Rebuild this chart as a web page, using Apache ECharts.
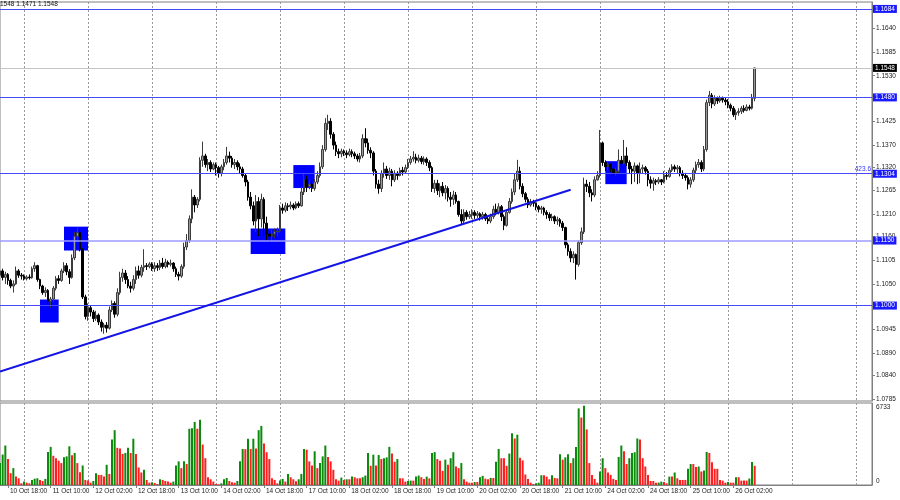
<!DOCTYPE html>
<html><head><meta charset="utf-8">
<script src="https://cdn.jsdelivr.net/npm/echarts/dist/echarts.min.js"></script>
<style>html,body{margin:0;padding:0;background:#fff}#c{width:900px;height:500px}</style>
</head><body><div id="c"></div>
<script>
// ---- data ----
const headerText = '1548 1.1471 1.1548';
const tickLabels = ['10 Oct 18:00','11 Oct 10:00','12 Oct 02:00','12 Oct 18:00','13 Oct 10:00','14 Oct 02:00','14 Oct 18:00','17 Oct 10:00','18 Oct 02:00','18 Oct 18:00','19 Oct 10:00','20 Oct 02:00','20 Oct 18:00','21 Oct 10:00','24 Oct 02:00','24 Oct 18:00','25 Oct 10:00','26 Oct 02:00'];
const priceTicks = [1.1640,1.1585,1.1530,1.1425,1.1370,1.1320,1.1265,1.1210,1.1160,1.1105,1.1050,1.0945,1.0890,1.0840,1.0785];
const close = [
1.1080,1.1065,1.1072,1.1058,1.1045,1.1050,1.1080,1.1070,1.1068,
1.1062,1.1066,1.1064,1.1085,1.1092,1.1060,1.1045,1.1030,1.1035,1.1010,1.1015,1.1040,1.1062,1.1058,1.1080,1.1092,1.1078,1.1065,1.1110,1.1160,1.1168,1.1130,1.1020,1.0975,
1.0995,1.0985,1.0970,1.0978,1.0962,1.0950,1.0955,1.0948,1.0990,1.1005,1.0980,1.1030,1.1065,1.1075,1.1060,1.1045,1.1040,1.1060,1.1080,1.1070,1.1088,1.1092,1.1090,1.1096,
1.1085,1.1092,1.1088,1.1098,1.1090,1.1100,1.1095,1.1098,1.1085,1.1072,1.1068,1.1090,1.1135,1.1150,1.1200,1.1250,1.1232,1.1245,1.1335,1.1345,1.1325,1.1330,1.1315,1.1325,
1.1318,1.1305,1.1320,1.1330,1.1345,1.1340,1.1325,1.1330,1.1320,1.1315,1.1300,1.1285,1.1250,1.1230,1.1195,1.1240,1.1200,1.1245,1.1190,1.1165,1.1160,1.1165,1.1170,1.1172,
1.1225,1.1220,1.1230,1.1228,1.1232,1.1225,1.1235,1.1230,1.1262,1.1290,1.1275,1.1280,1.1270,1.1285,1.1300,1.1320,1.1360,1.1420,1.1425,1.1395,1.1370,1.1355,1.1350,1.1356,
1.1352,1.1348,1.1355,1.1350,1.1345,1.1338,1.1345,1.1385,1.1375,1.1358,1.1352,1.1310,1.1280,1.1270,1.1305,1.1315,1.1300,1.1310,1.1290,1.1305,1.1300,1.1312,1.1308,1.1318,
1.1330,1.1338,1.1342,1.1335,1.1340,1.1332,1.1338,1.1330,1.1318,1.1270,1.1282,1.1265,1.1275,1.1260,1.1270,1.1250,1.1245,1.1255,1.1240,1.1210,1.1195,1.1215,1.1205,1.1210,
1.1215,1.1208,1.1212,1.1205,1.1210,1.1200,1.1195,1.1205,1.1222,1.1215,1.1228,1.1205,1.1185,1.1215,1.1240,1.1262,1.1290,1.1310,1.1275,1.1258,1.1245,1.1232,1.1240,1.1236,
1.1228,1.1222,1.1225,1.1215,1.1210,1.1202,1.1205,1.1195,1.1198,1.1190,1.1180,1.1140,1.1125,1.1110,1.1118,1.1095,1.1145,1.1170,1.1280,1.1275,1.1260,1.1255,1.1290,1.1300,
1.1375,1.1330,1.1320,1.1325,1.1315,1.1305,1.1310,1.1335,1.1328,1.1345,1.1330,1.1315,1.1310,1.1322,1.1305,1.1315,1.1318,1.1310,1.1290,1.1282,1.1288,1.1285,1.1290,1.1285,
1.1300,1.1298,1.1312,1.1320,1.1315,1.1318,1.1305,1.1300,1.1295,1.1280,1.1290,1.1312,1.1325,1.1330,1.1315,1.1360,1.1468,1.1485,1.1465,1.1478,1.1472,1.1478,1.1474,1.1470,
1.1462,1.1455,1.1440,1.1445,1.1448,1.1455,1.1450,1.1458,1.1455,1.1478,1.1548];
const open = [
1.1070,1.1080,1.1065,1.1072,1.1058,1.1045,1.1050,1.1080,1.1070,
1.1068,1.1062,1.1066,1.1064,1.1085,1.1092,1.1060,1.1045,1.1030,1.1035,1.1010,1.1015,1.1040,1.1062,1.1058,1.1080,1.1092,1.1078,1.1065,1.1110,1.1160,1.1168,1.1130,1.1020,
1.0975,1.0995,1.0985,1.0970,1.0978,1.0962,1.0950,1.0955,1.0948,1.0990,1.1005,1.0980,1.1030,1.1065,1.1075,1.1060,1.1045,1.1040,1.1060,1.1080,1.1070,1.1088,1.1092,1.1090,
1.1096,1.1085,1.1092,1.1088,1.1098,1.1090,1.1100,1.1095,1.1098,1.1085,1.1072,1.1068,1.1090,1.1135,1.1150,1.1200,1.1250,1.1232,1.1245,1.1335,1.1345,1.1325,1.1330,1.1315,
1.1325,1.1318,1.1305,1.1320,1.1330,1.1345,1.1340,1.1325,1.1330,1.1320,1.1315,1.1300,1.1285,1.1250,1.1230,1.1195,1.1240,1.1200,1.1245,1.1190,1.1165,1.1160,1.1165,1.1170,
1.1172,1.1225,1.1220,1.1230,1.1228,1.1232,1.1225,1.1235,1.1230,1.1262,1.1290,1.1275,1.1280,1.1270,1.1285,1.1300,1.1320,1.1360,1.1420,1.1425,1.1395,1.1370,1.1355,1.1350,
1.1356,1.1352,1.1348,1.1355,1.1350,1.1345,1.1338,1.1345,1.1385,1.1375,1.1358,1.1352,1.1310,1.1280,1.1270,1.1305,1.1315,1.1300,1.1310,1.1290,1.1305,1.1300,1.1312,1.1308,
1.1318,1.1330,1.1338,1.1342,1.1335,1.1340,1.1332,1.1338,1.1330,1.1318,1.1270,1.1282,1.1265,1.1275,1.1260,1.1270,1.1250,1.1245,1.1255,1.1240,1.1210,1.1195,1.1215,1.1205,
1.1210,1.1215,1.1208,1.1212,1.1205,1.1210,1.1200,1.1195,1.1205,1.1222,1.1215,1.1228,1.1205,1.1185,1.1215,1.1240,1.1262,1.1290,1.1310,1.1275,1.1258,1.1245,1.1232,1.1240,
1.1236,1.1228,1.1222,1.1225,1.1215,1.1210,1.1202,1.1205,1.1195,1.1198,1.1190,1.1180,1.1140,1.1125,1.1110,1.1118,1.1095,1.1145,1.1170,1.1280,1.1275,1.1260,1.1255,1.1290,
1.1300,1.1375,1.1330,1.1320,1.1325,1.1315,1.1305,1.1310,1.1335,1.1328,1.1345,1.1330,1.1315,1.1310,1.1322,1.1305,1.1315,1.1318,1.1310,1.1290,1.1282,1.1288,1.1285,1.1290,
1.1285,1.1300,1.1298,1.1312,1.1320,1.1315,1.1318,1.1305,1.1300,1.1295,1.1280,1.1290,1.1312,1.1325,1.1330,1.1315,1.1360,1.1468,1.1485,1.1465,1.1478,1.1472,1.1478,1.1474,
1.1470,1.1462,1.1455,1.1440,1.1445,1.1448,1.1455,1.1450,1.1458,1.1455,1.1478];
const high = [
1.1090,1.1085,1.1078,1.1075,1.1062,1.1058,1.1090,1.1084,1.1075,
1.1072,1.1070,1.1072,1.1090,1.1100,1.1094,1.1062,1.1048,1.1042,1.1038,1.1020,1.1045,1.1068,1.1070,1.1085,1.1100,1.1098,1.1084,1.1118,1.1170,1.1180,1.1176,1.1132,1.1025,
1.1005,1.1000,1.0990,1.0988,1.0982,1.0968,1.0960,1.0962,1.0998,1.1012,1.1010,1.1040,1.1078,1.1085,1.1082,1.1068,1.1055,1.1070,1.1090,1.1092,1.1094,1.1130,1.1098,1.1100,
1.1100,1.1100,1.1098,1.1105,1.1110,1.1108,1.1104,1.1106,1.1100,1.1090,1.1078,1.1095,1.1145,1.1165,1.1208,1.1268,1.1255,1.1250,1.1342,1.1378,1.1350,1.1338,1.1335,1.1330,
1.1330,1.1322,1.1325,1.1338,1.1366,1.1355,1.1345,1.1338,1.1335,1.1328,1.1320,1.1305,1.1290,1.1262,1.1240,1.1255,1.1250,1.1258,1.1250,1.1205,1.1172,1.1175,1.1178,1.1180,
1.1232,1.1235,1.1238,1.1236,1.1240,1.1236,1.1240,1.1240,1.1275,1.1305,1.1300,1.1290,1.1288,1.1292,1.1310,1.1330,1.1370,1.1432,1.1440,1.1432,1.1400,1.1378,1.1362,1.1362,
1.1360,1.1358,1.1362,1.1360,1.1355,1.1350,1.1352,1.1395,1.1409,1.1385,1.1365,1.1356,1.1315,1.1290,1.1312,1.1330,1.1322,1.1318,1.1315,1.1312,1.1310,1.1318,1.1320,1.1325,
1.1338,1.1345,1.1356,1.1350,1.1348,1.1345,1.1344,1.1342,1.1335,1.1322,1.1290,1.1290,1.1282,1.1285,1.1278,1.1275,1.1262,1.1265,1.1262,1.1242,1.1222,1.1222,1.1220,1.1218,
1.1222,1.1220,1.1218,1.1215,1.1216,1.1214,1.1206,1.1212,1.1230,1.1235,1.1236,1.1232,1.1210,1.1222,1.1248,1.1270,1.1305,1.1336,1.1320,1.1282,1.1262,1.1250,1.1246,1.1244,
1.1238,1.1232,1.1230,1.1228,1.1220,1.1215,1.1212,1.1208,1.1205,1.1202,1.1195,1.1182,1.1145,1.1132,1.1125,1.1120,1.1150,1.1180,1.1295,1.1290,1.1285,1.1268,1.1298,1.1310,
1.1405,1.1378,1.1335,1.1332,1.1328,1.1318,1.1318,1.1360,1.1345,1.1382,1.1365,1.1335,1.1322,1.1330,1.1325,1.1330,1.1325,1.1322,1.1315,1.1298,1.1295,1.1292,1.1296,1.1292,
1.1310,1.1308,1.1318,1.1326,1.1325,1.1324,1.1322,1.1312,1.1306,1.1300,1.1296,1.1318,1.1332,1.1338,1.1335,1.1368,1.1475,1.1495,1.1490,1.1485,1.1482,1.1484,1.1482,1.1480,
1.1476,1.1466,1.1460,1.1452,1.1455,1.1460,1.1462,1.1464,1.1463,1.1488,1.1548];
const low = [
1.1062,1.1058,1.1050,1.1048,1.1040,1.1030,1.1048,1.1064,1.1060,
1.1058,1.1058,1.1060,1.1062,1.1078,1.1055,1.1038,1.1025,1.1020,1.1004,1.0995,1.1008,1.1035,1.1050,1.1055,1.1075,1.1070,1.1050,1.1062,1.1105,1.1148,1.1125,1.1015,1.0968,
1.0965,1.0975,1.0962,1.0965,1.0955,1.0940,1.0935,1.0938,1.0945,1.0985,1.0972,1.0975,1.1025,1.1055,1.1050,1.1040,1.1030,1.1035,1.1050,1.1062,1.1065,1.1078,1.1082,1.1086,
1.1080,1.1078,1.1080,1.1082,1.1085,1.1086,1.1088,1.1090,1.1078,1.1066,1.1058,1.1064,1.1085,1.1128,1.1145,1.1190,1.1215,1.1225,1.1240,1.1320,1.1318,1.1310,1.1308,1.1312,
1.1300,1.1295,1.1298,1.1312,1.1325,1.1330,1.1318,1.1315,1.1312,1.1305,1.1295,1.1275,1.1242,1.1222,1.1185,1.1170,1.1160,1.1180,1.1160,1.1150,1.1145,1.1150,1.1155,1.1160,
1.1168,1.1212,1.1215,1.1218,1.1222,1.1220,1.1222,1.1225,1.1228,1.1255,1.1262,1.1268,1.1262,1.1265,1.1280,1.1295,1.1315,1.1355,1.1405,1.1385,1.1360,1.1345,1.1340,1.1342,
1.1345,1.1340,1.1344,1.1342,1.1338,1.1332,1.1330,1.1340,1.1365,1.1350,1.1340,1.1300,1.1270,1.1258,1.1262,1.1295,1.1292,1.1290,1.1275,1.1285,1.1290,1.1298,1.1300,1.1305,
1.1315,1.1325,1.1332,1.1328,1.1330,1.1326,1.1325,1.1322,1.1310,1.1262,1.1260,1.1255,1.1250,1.1252,1.1245,1.1240,1.1228,1.1232,1.1235,1.1205,1.1186,1.1190,1.1198,1.1200,
1.1200,1.1200,1.1202,1.1196,1.1198,1.1195,1.1188,1.1190,1.1200,1.1208,1.1210,1.1195,1.1174,1.1182,1.1212,1.1235,1.1255,1.1285,1.1268,1.1250,1.1238,1.1225,1.1228,1.1228,
1.1220,1.1215,1.1212,1.1208,1.1200,1.1195,1.1195,1.1188,1.1186,1.1182,1.1172,1.1132,1.1115,1.1100,1.1098,1.1060,1.1090,1.1140,1.1165,1.1262,1.1250,1.1240,1.1250,1.1288,
1.1295,1.1322,1.1310,1.1312,1.1308,1.1298,1.1300,1.1305,1.1318,1.1325,1.1322,1.1305,1.1280,1.1285,1.1280,1.1282,1.1305,1.1302,1.1275,1.1270,1.1265,1.1278,1.1280,1.1278,
1.1282,1.1290,1.1295,1.1308,1.1308,1.1305,1.1298,1.1292,1.1288,1.1268,1.1272,1.1285,1.1305,1.1318,1.1308,1.1310,1.1355,1.1460,1.1455,1.1460,1.1465,1.1468,1.1468,1.1462,
1.1455,1.1448,1.1435,1.1428,1.1438,1.1442,1.1445,1.1448,1.1450,1.1452,1.1471];
const volume = [
1800,2500,3240,2130,970,1385,690,550,140,
280,200,140,415,520,550,415,330,500,2700,3130,2400,2200,2000,1800,2270,2350,3180,2440,2630,1800,1050,1600,415,
360,190,330,970,830,830,690,1660,910,3740,4500,3050,3000,2550,2630,3050,2630,3800,2550,1440,1025,1250,415,190,
220,170,80,470,415,330,280,190,280,1600,1940,1385,1940,1720,4620,4650,5180,4620,5350,3320,2200,640,470,280,
80,55,140,470,580,330,220,190,330,1940,2960,2940,3800,2960,3800,3000,4500,4850,3400,2690,2130,550,415,140,
360,500,280,910,640,470,300,470,910,2960,2900,1940,1600,2770,1385,1800,2350,3240,2300,1940,1250,470,360,610,
415,470,470,690,640,550,550,640,775,2630,1580,2490,1600,2460,2130,2190,2270,3130,2580,1910,2130,550,550,280,
330,360,360,690,775,640,500,690,550,2630,2700,2130,2000,1160,2080,1660,2200,2690,1520,1385,1800,470,280,190,
190,250,250,640,750,520,470,580,580,1910,2960,2200,2200,1580,2580,4240,3820,4130,2240,2020,860,500,190,80,
140,190,800,800,690,470,800,580,550,2520,2080,2270,2520,1800,2200,3130,6290,5540,6510,4570,1800,830,500,190,
1100,2200,1385,1025,830,500,415,2300,3240,2770,1720,2200,2630,2690,3820,3740,2200,1520,830,330,330,190,200,280,
250,140,690,690,1025,550,415,415,415,1330,1720,1720,1470,1520,1110,1190,2710,2630,1860,1330,1330,415,360,190,
250,190,190,640,640,360,360,360,530,1880,1580];
const volumeMax = 6733;
const levelLines = [1.1684, 1.1480, 1.1304, 1.1000];
const softLevel = 1.1150;
const lastPrice = 1.1548;
const fibLevel = 1.1304, fibText = '423.6';
// zones: [fromBar, topPrice, toBar, bottomPrice]
const zones = [[15,1.1014,22,1.0961],[24,1.1182,33,1.1127],[94,1.1178,107,1.1119],[110,1.1324,118,1.1271],[227,1.1333,235,1.1280]];
const trendLine = [[0,1.0848],[214,1.1267]];

// ---- layout ----
const SLOTS = 328;
const FIRST_LABEL = 3, LABEL_STEP = 16, FIRST_DAY = 9, DAY_STEP = 24;
const FF = "'Liberation Sans', Arial, sans-serif";
const FS = 6.5;
const BLUE = '#4848ff';

const cats = [];
for (let i = 0; i < SLOTS; i++) {
  const k = i - FIRST_LABEL;
  cats.push(k >= 0 && k % LABEL_STEP === 0 && k / LABEL_STEP < tickLabels.length ? tickLabels[k / LABEL_STEP] : '');
}
const candles = close.map((c, i) => [open[i], c, low[i], high[i]]);
const volData = volume.map((v, i) => ({
  value: v,
  itemStyle: { color: (i === 0 || v > volume[i - 1]) ? '#0b8a0b' : '#ff1f1f' }
}));
const isDay = (idx) => idx >= FIRST_DAY && (idx - FIRST_DAY) % DAY_STEP === 0;
const gridSplit = { show: true, interval: isDay, lineStyle: { color: '#9a9a9a', width: 1, type: [2, 2] } };

function lvlLabel(v, bg) {
  return { show: true, position: 'end', distance: 1, formatter: v.toFixed(4), color: '#fff',
    backgroundColor: bg, padding: [1, 2, 0, 2], fontSize: FS, fontFamily: FF, lineHeight: 7 };
}
function levelSeries(name, color, width, items) {
  return { type: 'line', name, xAxisIndex: 0, yAxisIndex: 0, data: [], z: 4, silent: true, symbol: 'none',
    color: color, lineStyle: { color: color },
    markLine: { silent: true, precision: 4, symbol: ['none', 'none'], animation: false,
      lineStyle: { color: color, width: width, type: 'solid', opacity: 1 }, data: items } };
}

const chart = echarts.init(document.getElementById('c'), null, { renderer: 'canvas' });
chart.setOption({
  animation: false,
  backgroundColor: '#fff',
  graphic: [{ type: 'text', left: 0, top: 1, style: { text: headerText, fill: '#111', fontSize: FS, fontFamily: FF } }],
  grid: [
    { left: 0, right: 28, top: 2, height: 399, show: true, borderColor: '#808080', borderWidth: 1, backgroundColor: 'transparent' },
    { left: 0, right: 28, top: 403, height: 82, show: true, borderColor: '#808080', borderWidth: 1, backgroundColor: 'transparent' }
  ],
  xAxis: [
    { type: 'category', gridIndex: 0, data: cats, boundaryGap: false,
      axisLine: { show: false }, axisTick: { show: false }, axisLabel: { show: false }, splitLine: gridSplit },
    { type: 'category', gridIndex: 1, data: cats, boundaryGap: false,
      axisLine: { show: true, lineStyle: { color: '#808080' } },
      axisTick: { show: true, interval: (i, v) => v !== '', length: 3, lineStyle: { color: '#808080' } },
      axisLabel: { show: true, interval: (i, v) => v !== '', align: 'left', margin: 3, padding: [0, 0, 0, 2],
        color: '#222', fontSize: FS, fontFamily: FF },
      splitLine: gridSplit }
  ],
  yAxis: [
    { type: 'value', gridIndex: 0, position: 'right', min: 1.0780, max: 1.1700,
      axisLine: { show: true, lineStyle: { color: '#808080' } },
      axisTick: { show: true, length: 3, customValues: priceTicks, lineStyle: { color: '#808080' } },
      axisLabel: { show: true, customValues: priceTicks, margin: 4, color: '#222', fontSize: FS, fontFamily: FF,
        formatter: v => v.toFixed(4) },
      splitLine: { show: false } },
    { type: 'value', gridIndex: 1, position: 'right', min: 0, max: volumeMax,
      axisLine: { show: true, lineStyle: { color: '#808080' } },
      axisTick: { show: false },
      axisLabel: { show: true, customValues: [0, volumeMax], margin: 4, color: '#222',
        formatter: v => v === 0 ? '{b|0}' : '{t|' + v + '}',
        rich: { t: { fontSize: FS, fontFamily: FF, color: '#222', padding: [9, 0, 0, 0] },
                b: { fontSize: FS, fontFamily: FF, color: '#222', padding: [0, 0, 8, 0] } } },
      splitLine: { show: false } }
  ],
  series: [
    { type: 'line', name: 'zones', xAxisIndex: 0, yAxisIndex: 0, data: [], z: 1, silent: true, symbol: 'none',
      markArea: { silent: true, itemStyle: { color: '#0000ff', opacity: 1 },
        data: zones.map(z => [{ xAxis: z[0], yAxis: z[1] }, { xAxis: z[2], yAxis: z[3] }]) } },
    { type: 'candlestick', xAxisIndex: 0, yAxisIndex: 0, data: candles, barWidth: 2, z: 3,
      itemStyle: { color: '#9a9a9a', color0: '#000000', borderColor: '#3c3c3c', borderColor0: '#000000', borderWidth: 1 } },
    levelSeries('levels', BLUE, 1, levelLines.map(v => ({ yAxis: v, label: lvlLabel(v, '#1a1aff') }))),
    levelSeries('soft', '#9c9cff', 1.5, [{ yAxis: softLevel, label: lvlLabel(softLevel, '#1a1aff') }]),
    levelSeries('last', '#c4c4c4', 1, [{ yAxis: lastPrice, label: lvlLabel(lastPrice, '#000') }]),
    levelSeries('fib', BLUE, 1, [{ yAxis: fibLevel,
      label: { show: true, position: 'insideEndTop', distance: 1, formatter: fibText, color: '#3333ff', fontSize: FS, fontFamily: FF } }]),
    { type: 'line', xAxisIndex: 0, yAxisIndex: 0, data: trendLine, symbol: 'none', silent: true, z: 5,
      lineStyle: { color: '#1414e6', width: 2 } },
    { type: 'bar', xAxisIndex: 1, yAxisIndex: 1, data: volData, barWidth: 2, silent: true }
  ]
});
</script></body></html>
